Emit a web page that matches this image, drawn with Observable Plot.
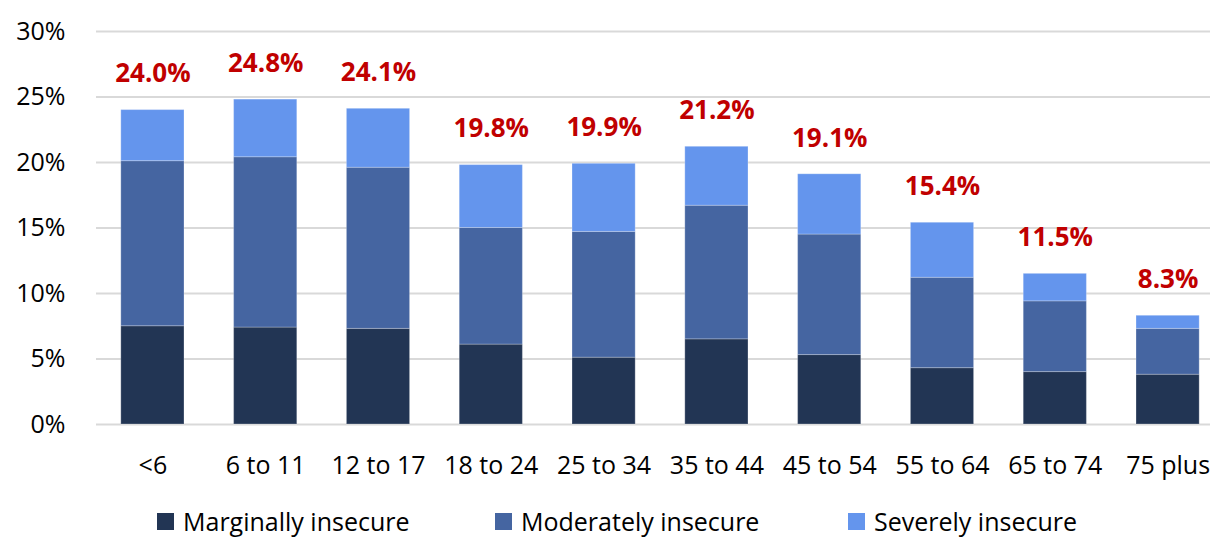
<!DOCTYPE html>
<html>
<head>
<meta charset="utf-8">
<script src="https://cdn.jsdelivr.net/npm/d3@7"></script>
<script src="https://cdn.jsdelivr.net/npm/@observablehq/plot@0.6"></script>
<style>
  html, body { margin: 0; padding: 0; background: #fff; overflow: hidden; width: 1210px; height: 541px; }
  #chart { position: relative; width: 1210px; height: 541px; overflow: hidden; font-family: "Open Sans", sans-serif; }
  #chart svg { max-width: none !important; }
  #legend { position: absolute; top: 509px; left: 0; width: 1210px; height: 25px; }
  .item { position: absolute; top: 0; display: flex; align-items: center; font-size: 25px; line-height: 25px; color: #000; white-space: nowrap; }
  .sw { width: 17px; height: 17px; margin-right: 9px; }
</style>
</head>
<body>
<div id="chart"></div>
<script>
const ages = ["<6", "6 to 11", "12 to 17", "18 to 24", "25 to 34", "35 to 44", "45 to 54", "55 to 64", "65 to 74", "75 plus"];
const seriesNames = ["Marginally insecure", "Moderately insecure", "Severely insecure"];
const seriesColors = ["#223554", "#4565A1", "#6495ED"];
const marginal = [7.5, 7.4, 7.3, 6.1, 5.1, 6.5, 5.3, 4.3, 4.0, 3.8];
const moderate = [12.6, 13.0, 12.3, 8.9, 9.6, 10.2, 9.2, 6.9, 5.4, 3.5];
const severe = [3.9, 4.4, 4.5, 4.8, 5.2, 4.5, 4.6, 4.2, 2.1, 1.0];
const totals = [24.0, 24.8, 24.1, 19.8, 19.9, 21.2, 19.1, 15.4, 11.5, 8.3];
const yTicks = [0, 5, 10, 15, 20, 25, 30];

const seriesValues = [marginal, moderate, severe];
const rows = [];
seriesNames.forEach((s, si) => ages.forEach((a, i) => rows.push({age: a, series: s, value: seriesValues[si][i]})));
const totalRows = ages.map((a, i) => ({age: a, total: totals[i]}));

const plot = Plot.plot({
  width: 1224,
  height: 490,
  marginTop: 31,
  marginBottom: 66,
  marginLeft: 96,
  marginRight: 0,
  style: {fontFamily: "'Open Sans', sans-serif", fontSize: "22px", color: "#000", background: "#fff", maxWidth: "none"},
  x: {domain: ages, paddingInner: 0.44, paddingOuter: 0.22, round: false, label: null},
  y: {domain: [0, 30], label: null},
  color: {domain: seriesNames, range: seriesColors},
  marks: [
    Plot.gridY(yTicks, {stroke: "#d9d9d9", strokeOpacity: 1, strokeWidth: 2}),
    Plot.barY(rows, Plot.stackY({x: "age", y: "value", fill: "series", stroke: "#ffffff", strokeOpacity: 0.25, strokeWidth: 1})),
    Plot.text(totalRows, {x: "age", y: "total", text: d => d.total.toFixed(1) + "%", dy: -36, fill: "#C00000", fontWeight: "bold", fontSize: 26}),
    Plot.axisY(yTicks, {tickSize: 0, tickPadding: 31, tickFormat: d => d + "%", fontSize: 25, fill: "#000"}),
    Plot.axisX({tickSize: 0, tickPadding: 32, fontSize: 25, fill: "#000"})
  ]
});
const chart = document.getElementById("chart");
chart.appendChild(plot);

const legend = document.createElement("div");
legend.id = "legend";
const lefts = [157, 495, 848];
seriesNames.forEach((s, i) => {
  const it = document.createElement("div");
  it.className = "item";
  it.style.left = lefts[i] + "px";
  const sw = document.createElement("span");
  sw.className = "sw";
  sw.style.background = seriesColors[i];
  const t = document.createElement("span");
  t.textContent = s;
  it.appendChild(sw);
  it.appendChild(t);
  legend.appendChild(it);
});
chart.appendChild(legend);
</script>
</body>
</html>
